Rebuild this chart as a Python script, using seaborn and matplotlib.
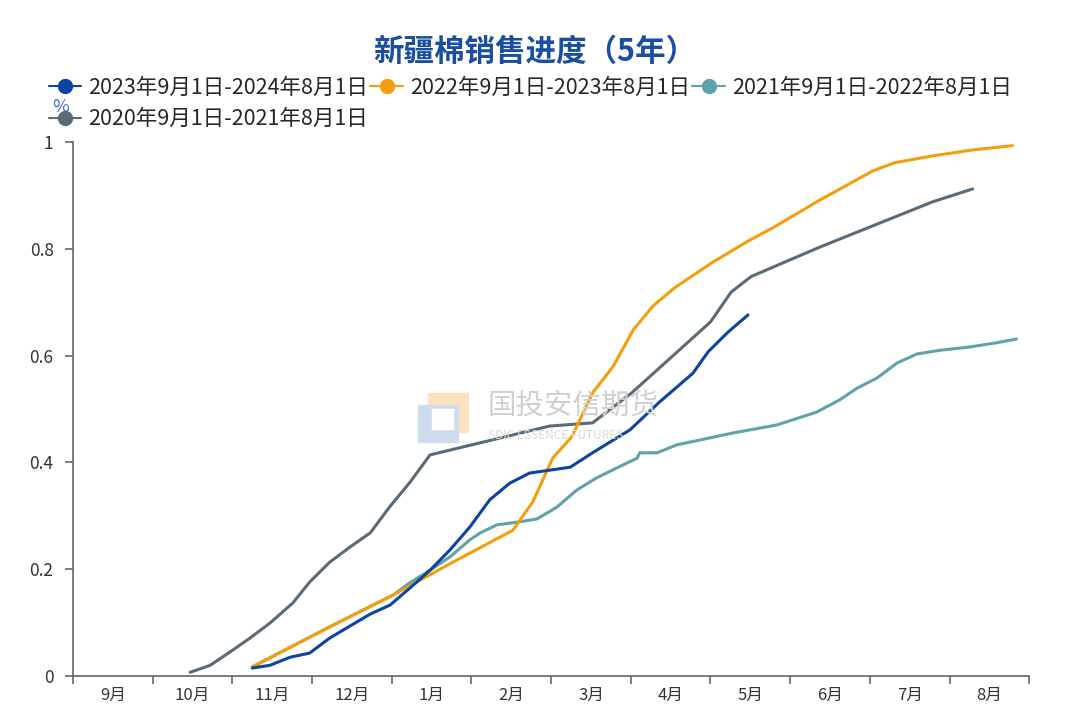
import pandas as pd
import numpy as np
import matplotlib.pyplot as plt
import seaborn as sns
from matplotlib.lines import Line2D
from matplotlib.patches import Rectangle

sns.set_style('white')
plt.rcParams['font.family'] = ['Noto Sans CJK SC', 'DejaVu Sans']

month_labels = ['9月', '10月', '11月', '12月', '1月', '2月', '3月', '4月', '5月', '6月', '7月', '8月']
names = ['2023年9月1日-2024年8月1日', '2022年9月1日-2023年8月1日',
         '2021年9月1日-2022年8月1日', '2020年9月1日-2021年8月1日']
colors = ['#0c44a0', '#f59e0b', '#5fa2a8', '#5b6b76']

# x = months since 1 Sep
m_2023 = [2.25, 2.47, 2.72, 2.97, 3.22, 3.48, 3.73, 3.98, 4.23, 4.48, 4.73, 4.98, 5.23, 5.48,
          5.73, 6.24, 6.52, 6.99, 7.36, 7.78, 7.97, 8.22, 8.47]
v_2023 = [0.015, 0.02, 0.035, 0.043, 0.071, 0.094, 0.116, 0.133, 0.165, 0.198, 0.236, 0.279, 0.33, 0.361,
          0.38, 0.391, 0.418, 0.461, 0.513, 0.567, 0.607, 0.644, 0.676]

m_2022 = [2.25, 3.22, 4.02, 4.79, 5.52, 5.77, 6.02, 6.26, 6.52, 6.78, 7.03, 7.28, 7.55, 8.03,
          8.49, 8.78, 9.37, 10.04, 10.31, 10.79, 11.29, 11.79]
v_2022 = [0.017, 0.092, 0.152, 0.215, 0.273, 0.326, 0.408, 0.448, 0.53, 0.58, 0.648, 0.693, 0.727, 0.775,
          0.816, 0.839, 0.891, 0.946, 0.961, 0.974, 0.985, 0.993]

m_2021 = [2.25, 3.22, 4.02, 4.23, 4.48, 4.73, 4.98, 5.11, 5.32, 5.57, 5.82, 6.07, 6.32, 6.57, 6.83,
          7.08, 7.11, 7.33, 7.58, 7.87, 8.28, 8.83, 9.33, 9.62, 9.84, 10.09, 10.34, 10.59, 10.88,
          11.25, 11.59, 11.84]
v_2021 = [0.017, 0.092, 0.152, 0.175, 0.198, 0.223, 0.255, 0.268, 0.283, 0.288, 0.294, 0.316, 0.348,
          0.371, 0.39, 0.408, 0.418, 0.418, 0.433, 0.442, 0.455, 0.47, 0.494, 0.517, 0.539, 0.558,
          0.586, 0.603, 0.61, 0.616, 0.624, 0.631]

m_2020 = [1.47, 1.72, 1.97, 2.22, 2.47, 2.76, 2.97, 3.22, 3.48, 3.73, 3.98, 4.23, 4.48, 5.98, 6.52,
          7.01, 8.0, 8.26, 8.51, 9.37, 10.79, 11.29]
v_2020 = [0.007, 0.02, 0.045, 0.071, 0.099, 0.137, 0.176, 0.213, 0.242, 0.268, 0.318, 0.363, 0.414,
          0.468, 0.474, 0.53, 0.663, 0.719, 0.748, 0.803, 0.888, 0.912]

series = [(m_2023, v_2023), (m_2022, v_2022), (m_2021, v_2021), (m_2020, v_2020)]
frames = []
for name, (m, v) in zip(names, series):
    frames.append(pd.DataFrame({'month': m, 'value': v, 'season': name}))
df = pd.concat(frames, ignore_index=True)

fig = plt.figure(figsize=(10.8, 7.15), dpi=100)
ax = fig.add_axes([0.0676, 0.0545, 0.8854, 0.747])

# watermark (behind the lines)
fig.patches.append(Rectangle((0.396, 0.396), 0.037, 0.054, transform=fig.transFigure,
                             color='#fbe3c0', zorder=0))
fig.patches.append(Rectangle((0.387, 0.382), 0.037, 0.052, transform=fig.transFigure,
                             color='#cfdbef', zorder=0))
fig.patches.append(Rectangle((0.400, 0.400), 0.019, 0.028, transform=fig.transFigure,
                             color='white', zorder=0))
fig.text(0.451, 0.432, '国投安信期货', fontsize=20.5, color='#d0d0d0', ha='left', va='center')
fig.text(0.452, 0.391, 'SDIC ESSENCE FUTURES', fontsize=8.5, color='#d8d8d8',
         ha='left', va='center')
ax.patch.set_alpha(0)

# draw oldest first so the current season sits on top
for i in [3, 2, 1, 0]:
    sub = df[df['season'] == names[i]]
    sns.lineplot(data=sub, x='month', y='value', color=colors[i], lw=2.2, sort=False,
                 estimator=None, ax=ax, legend=False)

ax.set_xlim(0, 12)
ax.set_ylim(0, 1)
ax.set_xlabel('')
ax.set_ylabel('')
ax.set_xticks(np.arange(0, 13))
ax.set_xticklabels([])
ax.set_xticks(np.arange(12) + 0.5, minor=True)
ax.set_xticklabels(month_labels, minor=True, fontsize=12, color='#333333')
ax.tick_params(axis='x', which='major', length=6, width=1.2, color='#666666', direction='out', bottom=True)
ax.tick_params(axis='x', which='minor', length=0, pad=8)
ax.set_yticks([0, 0.2, 0.4, 0.6, 0.8, 1])
ax.set_yticklabels(['0', '0.2', '0.4', '0.6', '0.8', '1'], fontsize=12.5, color='#333333')
ax.tick_params(axis='y', length=6, width=1.2, color='#666666', direction='out', left=True, pad=8)
for s in ['top', 'right']:
    ax.spines[s].set_visible(False)
for s in ['left', 'bottom']:
    ax.spines[s].set_color('#666666')
    ax.spines[s].set_linewidth(1.2)

fig.text(0.495, 0.928, '新疆棉销售进度（5年）', ha='center', va='center', fontsize=22,
         fontweight='bold', color='#1a4fa0')
fig.text(0.048, 0.85, '%', fontsize=13, color='#3f6fd0', ha='left', va='center')

# order so that column-wise filling gives rows: blue, orange, teal / gray
order = [0, 3, 1, 2]
handles = [Line2D([0], [0], color=colors[i], lw=1.5, marker='o', markersize=10) for i in order]
fig.legend(handles, [names[i] for i in order], loc='upper left', bbox_to_anchor=(0.037, 0.905),
           ncol=3, frameon=False, fontsize=15.5, handlelength=1.5, handletextpad=0.35,
           columnspacing=0.1, labelspacing=0.45, borderaxespad=0)

fig.savefig('out.png', dpi=100)
